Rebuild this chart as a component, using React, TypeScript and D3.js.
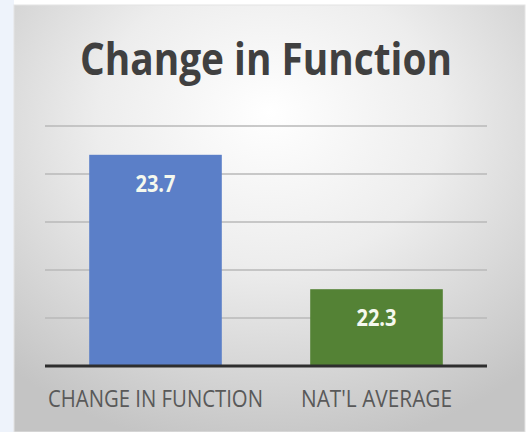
import React from "react";
import * as d3 from "d3";

const categories = ["CHANGE IN FUNCTION", "NAT'L AVERAGE"];
const values = [23.7, 22.3];
const valueLabels = ["23.7", "22.3"];
const barColors = ["#5b7fc8", "#548235"];
const gridTicks = [21.5, 22, 22.5, 23, 23.5, 24];
const title = "Change in Function";

export default function App() {
  const W = 530;
  const H = 432;
  const plotLeft = 45;
  const plotRight = 487;
  const x = d3
    .scaleBand<string>()
    .domain(categories)
    .range([plotLeft, plotRight])
    .paddingInner(0.4)
    .paddingOuter(0.2);
  const y = d3.scaleLinear().domain([21.5, 24]).range([366, 126]);
  const labelWidths = [215, 151];

  return (
    <svg
      width={W}
      height={H}
      style={{ position: "absolute", left: 0, top: 0, display: "block" }}
    >
      <defs>
        <radialGradient id="bg" cx="0.5" cy="0.3" r="0.75" fx="0.5" fy="0.25">
          <stop offset="0" stopColor="#ffffff" />
          <stop offset="0.45" stopColor="#ededed" />
          <stop offset="1" stopColor="#c4c4c4" />
        </radialGradient>
      </defs>
      <rect x={0} y={0} width={W} height={H} fill="#ffffff" />
      <rect x={0} y={0} width={14} height={H} fill="#eef3fb" />
      <rect x={14} y={5} width={511} height={H - 5} fill="url(#bg)" stroke="#e4e4e4" strokeWidth={1} />
      <text
        x={266}
        y={75}
        textAnchor="middle"
        fontFamily="'Open Sans', 'DejaVu Sans', sans-serif"
        fontWeight={700}
        fontSize={44}
        fill="#404040"
        textLength={372}
        lengthAdjust="spacingAndGlyphs"
      >
        {title}
      </text>
      {gridTicks.slice(1).map((t) => (
        <line
          key={t}
          x1={plotLeft}
          x2={plotRight}
          y1={y(t)}
          y2={y(t)}
          stroke="#b8b8b8"
          strokeWidth={1.5}
        />
      ))}
      {categories.map((c, i) => (
        <g key={c}>
          <rect
            x={x(c)}
            y={y(values[i])}
            width={x.bandwidth()}
            height={y(21.5) - y(values[i])}
            fill={barColors[i]}
          />
          <text
            x={(x(c) as number) + x.bandwidth() / 2}
            y={y(values[i]) + 37}
            textAnchor="middle"
            fontFamily="'Liberation Sans Narrow', 'Open Sans', sans-serif"
            fontWeight={700}
            fontSize={23}
            fill="#f4f8ee"
            textLength={40}
            lengthAdjust="spacingAndGlyphs"
          >
            {valueLabels[i]}
          </text>
          <text
            x={(x(c) as number) + x.bandwidth() / 2}
            y={407}
            textAnchor="middle"
            fontFamily="'Liberation Sans Narrow', 'Open Sans', sans-serif"
            fontSize={24}
            fill="#595959"
            textLength={labelWidths[i]}
            lengthAdjust="spacingAndGlyphs"
          >
            {c}
          </text>
        </g>
      ))}
      <line
        x1={plotLeft}
        x2={plotRight}
        y1={y(21.5)}
        y2={y(21.5)}
        stroke="#2e2e2e"
        strokeWidth={3}
      />
    </svg>
  );
}
